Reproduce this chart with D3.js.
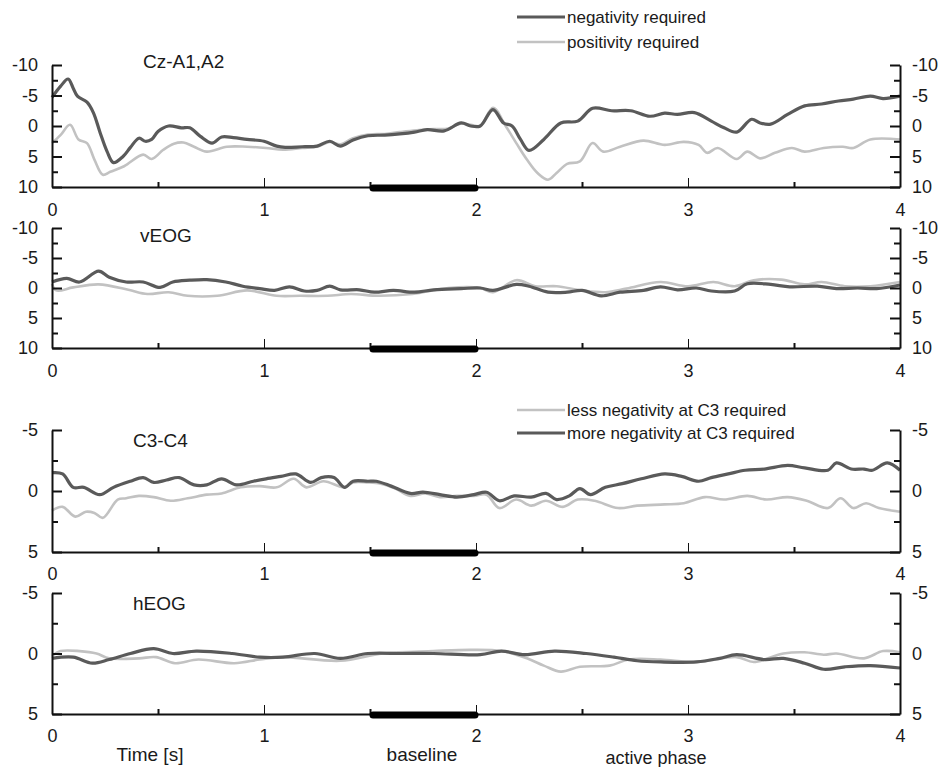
<!DOCTYPE html>
<html>
<head>
<meta charset="utf-8">
<script src="https://cdn.jsdelivr.net/npm/d3@7"></script>
<style>
    body { margin: 0; background: #fff; }
    svg text { font-family: "Liberation Sans", Arial, Helvetica, sans-serif; fill: #1a1a1a; }
    .axis path, .axis line { stroke: #111; }
</style>
</head>
<body>
<svg id="chart" width="945" height="767"></svg>
<script>
// Time axis ticks (s)
var timeTicks = [0, 1, 2, 3, 4];
var timeMinorTicks = [0.5, 1.5, 2.5, 3.5];
var baseline = [1.5, 2.0];

// Panel titles and legend labels
var panelTitles = ['Cz-A1,A2', 'vEOG', 'C3-C4', 'hEOG'];
var legendTop = ['negativity required', 'positivity required'];
var legendBottom = ['less negativity at C3 required', 'more negativity at C3 required'];

// Amplitude ticks (negative up)
var bigTicks = [-10, -5, 0, 5, 10];
var bigMinor = [-7.5, -2.5, 2.5, 7.5];
var smallTicks = [-5, 0, 5];
var smallMinor = [-2.5, 2.5];

// Series: [time, amplitude]
var czNegative = [[0,-4.7],[0.04,-6.5],[0.076,-7.7],[0.1,-6.2],[0.12,-4.9],[0.165,-3.9],[0.195,-2.2],[0.227,1.1],[0.26,4.2],[0.29,6.0],[0.335,5.0],[0.37,3.5],[0.41,2.0],[0.44,2.5],[0.47,2.2],[0.5,0.9],[0.55,0],[0.61,0.3],[0.65,0.3],[0.7,1.7],[0.755,2.8],[0.8,1.8],[0.855,1.9],[0.92,2.2],[1.0,2.5],[1.06,3.3],[1.1,3.5],[1.18,3.4],[1.25,3.3],[1.31,2.5],[1.36,3.3],[1.42,2.3],[1.49,1.6],[1.57,1.5],[1.64,1.3],[1.71,1.0],[1.77,0.6],[1.85,0.8],[1.93,-0.5],[1.975,0],[2.02,0],[2.08,-2.7],[2.13,-0.5],[2.17,0],[2.21,2.2],[2.25,4.0],[2.32,2.2],[2.4,-0.5],[2.48,-0.8],[2.55,-2.9],[2.64,-2.5],[2.73,-2.5],[2.82,-1.6],[2.89,-2.1],[2.95,-1.9],[3.03,-2.2],[3.11,-0.8],[3.17,0.3],[3.23,1.0],[3.3,-1.1],[3.34,-0.5],[3.39,-0.3],[3.47,-1.9],[3.55,-3.3],[3.63,-3.6],[3.71,-4.1],[3.78,-4.4],[3.86,-4.9],[3.92,-4.5],[4.0,-4.9]];
var czPositive = [[0,2.8],[0.04,1.5],[0.085,-0.2],[0.125,2.2],[0.165,2.8],[0.2,5.5],[0.24,8.0],[0.275,7.5],[0.34,6.6],[0.43,4.7],[0.47,5.4],[0.525,3.9],[0.575,2.9],[0.62,2.7],[0.67,3.4],[0.73,4.2],[0.825,3.4],[0.92,3.4],[1.01,3.6],[1.09,3.9],[1.18,3.6],[1.25,3.4],[1.31,2.6],[1.36,3.0],[1.42,2.0],[1.49,1.4],[1.57,1.3],[1.64,1.0],[1.72,0.7],[1.8,0.5],[1.87,0.4],[1.93,-0.4],[1.975,-0.2],[2.02,0],[2.08,-3.0],[2.14,0],[2.19,2.8],[2.24,5.5],[2.29,7.7],[2.34,8.8],[2.38,7.7],[2.43,6.2],[2.49,5.8],[2.55,2.8],[2.6,4.2],[2.68,3.4],[2.79,2.4],[2.89,3.1],[2.98,2.6],[3.05,3.1],[3.09,4.4],[3.14,3.6],[3.23,5.4],[3.28,4.2],[3.34,5.3],[3.41,4.4],[3.49,3.6],[3.55,4.2],[3.64,3.6],[3.73,3.4],[3.78,3.6],[3.86,2.2],[4.0,2.2]];

var veogNegative = [[0,-1.0],[0.07,-1.6],[0.13,-1.0],[0.22,-2.8],[0.27,-1.8],[0.35,-1.0],[0.43,-1.0],[0.51,-0.1],[0.57,-1.0],[0.65,-1.3],[0.73,-1.4],[0.82,-1.0],[0.9,-0.3],[0.98,0.1],[1.05,0.4],[1.12,-0.2],[1.19,0.5],[1.25,0.4],[1.31,-0.3],[1.36,0.3],[1.45,0.3],[1.52,0.7],[1.61,0.4],[1.71,0.7],[1.8,0.3],[1.93,0.1],[2.02,0],[2.08,0.4],[2.19,-0.6],[2.25,-0.3],[2.34,0.7],[2.43,0.7],[2.5,0.4],[2.59,1.3],[2.68,0.7],[2.79,0.4],[2.87,-0.2],[2.95,0.3],[3.04,0],[3.11,0.5],[3.22,0.5],[3.28,-0.7],[3.39,-0.6],[3.48,-0.2],[3.61,-0.3],[3.7,0.1],[3.8,0],[3.89,0.1],[4.0,-0.5]];
var veogPositive = [[0,-0.7],[0.02,0.4],[0.1,-0.1],[0.22,-0.6],[0.36,0.3],[0.45,1.0],[0.55,0.7],[0.64,1.3],[0.78,1.3],[0.92,0.4],[1.06,1.3],[1.17,1.3],[1.3,1.3],[1.41,1.0],[1.54,1.3],[1.7,1.0],[1.87,0],[2.02,0],[2.08,0.7],[2.19,-1.3],[2.28,-0.3],[2.38,-0.3],[2.5,0.4],[2.61,0.7],[2.71,0.1],[2.87,-1.0],[3.0,-0.3],[3.12,-1.0],[3.22,-0.3],[3.31,-1.3],[3.44,-1.4],[3.55,-0.6],[3.63,-1.0],[3.74,-0.3],[3.86,-0.3],[4.0,-1.0]];

var c3More = [[0,-1.5],[0.05,-1.4],[0.1,-0.3],[0.15,-0.3],[0.225,0.3],[0.29,-0.3],[0.37,-0.8],[0.43,-1.1],[0.48,-0.7],[0.54,-0.9],[0.6,-1.1],[0.67,-0.5],[0.73,-0.5],[0.8,-1.0],[0.87,-0.5],[0.95,-0.8],[1.01,-1.0],[1.08,-1.2],[1.15,-1.4],[1.22,-0.7],[1.27,-1.1],[1.33,-1.1],[1.38,-0.3],[1.42,-0.8],[1.49,-0.8],[1.53,-0.8],[1.6,-0.4],[1.69,0.2],[1.75,0.1],[1.83,0.3],[1.91,0.5],[1.99,0.3],[2.05,0.1],[2.11,0.8],[2.18,0.4],[2.26,0.5],[2.33,0.2],[2.38,0.7],[2.44,0.4],[2.49,-0.2],[2.54,0.3],[2.61,-0.3],[2.69,-0.6],[2.78,-1.0],[2.89,-1.4],[2.97,-1.2],[3.05,-0.8],[3.11,-1.1],[3.19,-1.4],[3.27,-1.7],[3.36,-1.8],[3.47,-2.1],[3.55,-1.9],[3.66,-1.7],[3.7,-2.3],[3.77,-1.8],[3.83,-1.8],[3.87,-1.7],[3.94,-2.3],[4.0,-1.7]];
var c3Less = [[0,1.6],[0.05,1.3],[0.11,2.1],[0.16,1.7],[0.2,1.8],[0.24,2.2],[0.31,0.7],[0.35,0.6],[0.41,0.4],[0.48,0.5],[0.56,0.8],[0.64,0.6],[0.73,0.3],[0.8,0.2],[0.89,-0.3],[0.98,-0.4],[1.06,-0.3],[1.14,-1.0],[1.2,-0.3],[1.28,-0.8],[1.38,-0.3],[1.42,-0.7],[1.49,-0.7],[1.55,-0.6],[1.62,-0.2],[1.69,0.4],[1.76,0.2],[1.83,0.5],[1.91,0.4],[1.99,0.4],[2.05,0.3],[2.11,1.4],[2.19,0.7],[2.26,1.2],[2.33,0.8],[2.41,1.3],[2.48,0.7],[2.56,0.8],[2.67,1.4],[2.76,1.2],[2.89,1.1],[2.98,1.0],[3.08,0.5],[3.17,0.7],[3.28,0.4],[3.37,0.7],[3.47,0.5],[3.56,0.8],[3.66,1.4],[3.72,0.6],[3.78,1.4],[3.84,1.0],[3.9,1.4],[4.0,1.7]];

var heogMore = [[0,0.4],[0.1,0.3],[0.19,0.8],[0.27,0.5],[0.37,0],[0.48,-0.4],[0.57,0],[0.68,-0.2],[0.85,0],[0.98,0.3],[1.09,0.3],[1.24,0],[1.36,0.4],[1.49,0],[1.65,0],[1.8,0],[2.02,0.1],[2.12,-0.2],[2.23,0.1],[2.37,-0.2],[2.52,0],[2.65,0.3],[2.76,0.6],[2.87,0.7],[3.04,0.7],[3.15,0.4],[3.23,0.1],[3.36,0.5],[3.45,0.4],[3.55,0.8],[3.64,1.3],[3.74,1.1],[3.86,1.0],[4.0,1.2]];
var heogLess = [[0,0.2],[0.04,-0.2],[0.13,-0.2],[0.21,0],[0.27,0.4],[0.41,0.4],[0.49,0.3],[0.58,0.8],[0.69,0.5],[0.86,0.8],[0.98,0.5],[1.09,0.3],[1.36,0.6],[1.56,0],[1.8,-0.2],[1.975,-0.3],[2.12,-0.2],[2.24,0.4],[2.32,1.0],[2.4,1.5],[2.49,1.1],[2.63,1.0],[2.72,0.5],[2.87,0.5],[3.04,0.7],[3.23,0.3],[3.31,0.7],[3.45,0],[3.55,-0.1],[3.64,0.1],[3.7,0],[3.83,0.4],[3.92,-0.2],[4.0,-0.1]];

// Styles
var darkColor = '#5a5a5a',
    lightColor = '#c2c2c2',
    fontSize = 18;

var svg = d3.select('#chart');
var x = d3.scaleLinear().domain([0, 4]).range([52, 900]);

// Layout of the four panels
var panels = [
    { title: panelTitles[0], top: 65, bottom: 187, max: 10, ticks: bigTicks, minor: bigMinor, light: czPositive, dark: czNegative, titleX: 143, titleY: 68, pad: 16 },
    { title: panelTitles[1], top: 228, bottom: 348, max: 10, ticks: bigTicks, minor: bigMinor, light: veogPositive, dark: veogNegative, titleX: 140, titleY: 242, pad: 16 },
    { title: panelTitles[2], top: 430, bottom: 552, max: 5, ticks: smallTicks, minor: smallMinor, light: c3Less, dark: c3More, titleX: 133, titleY: 447, pad: 15 },
    { title: panelTitles[3], top: 593, bottom: 714, max: 5, ticks: smallTicks, minor: smallMinor, light: heogLess, dark: heogMore, titleX: 133, titleY: 610, pad: 15 }
];

function styleAxis(g) {
    g.attr('font-size', fontSize)
        .attr('font-family', '"Liberation Sans", Arial, sans-serif');
    g.selectAll('text').attr('fill', '#1a1a1a');
}

panels.forEach(function(p) {
    var y = d3.scaleLinear().domain([-p.max, p.max]).range([p.top, p.bottom]);
    var line = d3.line()
        .x(function(d) { return x(d[0]); })
        .y(function(d) { return y(d[1]); })
        .curve(d3.curveCatmullRom.alpha(0.5));

    var g = svg.append('g');

    // traces
    g.append('path').datum(p.light)
        .attr('d', line).attr('fill', 'none')
        .attr('stroke', lightColor).attr('stroke-width', 2.6);
    g.append('path').datum(p.dark)
        .attr('d', line).attr('fill', 'none')
        .attr('stroke', darkColor).attr('stroke-width', 3.2);

    // bottom axis, ticks pointing up
    g.append('g').attr('class', 'axis')
        .attr('transform', 'translate(0,' + p.bottom + ')')
        .call(d3.axisBottom(x).tickValues(timeTicks).tickSize(-9).tickSizeOuter(0).tickPadding(p.pad)
            .tickFormat(function(d) { return String(d); }))
        .call(styleAxis)
        .select('.domain').attr('stroke-width', 2);
    g.append('g').attr('class', 'axis')
        .attr('transform', 'translate(0,' + p.bottom + ')')
        .call(d3.axisBottom(x).tickValues(timeMinorTicks).tickSize(-5).tickFormat(''))
        .call(function(a) { a.select('.domain').remove(); a.selectAll('line').attr('stroke-width', 2); });

    // left and right amplitude axes
    g.append('g').attr('class', 'axis')
        .attr('transform', 'translate(' + x(0) + ',0)')
        .call(d3.axisLeft(y).tickValues(p.ticks).tickSize(-10).tickSizeOuter(0).tickPadding(14)
            .tickFormat(function(d) { return String(d); }))
        .call(styleAxis)
        .call(function(a) { a.select('.domain').attr('stroke-width', 2); a.selectAll('line').attr('stroke-width', 2); });
    g.append('g').attr('class', 'axis')
        .attr('transform', 'translate(' + x(0) + ',0)')
        .call(d3.axisLeft(y).tickValues(p.minor).tickSize(-6).tickFormat(''))
        .call(function(a) { a.select('.domain').remove(); a.selectAll('line').attr('stroke-width', 2); });

    g.append('g').attr('class', 'axis')
        .attr('transform', 'translate(' + x(4) + ',0)')
        .call(d3.axisRight(y).tickValues(p.ticks).tickSize(-10).tickSizeOuter(0).tickPadding(12)
            .tickFormat(function(d) { return String(d); }))
        .call(styleAxis)
        .call(function(a) { a.select('.domain').attr('stroke-width', 2); a.selectAll('line').attr('stroke-width', 2); });
    g.append('g').attr('class', 'axis')
        .attr('transform', 'translate(' + x(4) + ',0)')
        .call(d3.axisRight(y).tickValues(p.minor).tickSize(-6).tickFormat(''))
        .call(function(a) { a.select('.domain').remove(); a.selectAll('line').attr('stroke-width', 2); });

    // baseline bar
    g.append('line')
        .attr('x1', x(baseline[0]) + 3).attr('x2', x(baseline[1]) - 1)
        .attr('y1', p.bottom + 1).attr('y2', p.bottom + 1)
        .attr('stroke', '#000').attr('stroke-width', 7)
        .attr('stroke-linecap', 'round');

    // panel title
    g.append('text')
        .attr('x', p.titleX).attr('y', p.titleY)
        .attr('font-size', 19)
        .text(p.title);
});

// legends
function legend(items, colors, widths, ys) {
    items.forEach(function(label, i) {
        svg.append('line')
            .attr('x1', 517).attr('x2', 565)
            .attr('y1', ys[i]).attr('y2', ys[i])
            .attr('stroke', colors[i]).attr('stroke-width', widths[i]);
        svg.append('text')
            .attr('x', 567).attr('y', ys[i]).attr('dy', '0.35em')
            .attr('font-size', 17)
            .text(label);
    });
}
legend(legendTop, [darkColor, lightColor], [3.2, 2.6], [17, 42]);
legend(legendBottom, [lightColor, darkColor], [2.6, 3.2], [410, 433]);

// bottom labels
svg.append('text').attr('x', 150).attr('y', 761).attr('text-anchor', 'middle')
    .attr('font-size', 19).text('Time [s]');
svg.append('text').attr('x', 422).attr('y', 761).attr('text-anchor', 'middle')
    .attr('font-size', 19).text('baseline');
svg.append('text').attr('x', 656).attr('y', 764).attr('text-anchor', 'middle')
    .attr('font-size', 18).text('active phase');
</script>
</body>
</html>
